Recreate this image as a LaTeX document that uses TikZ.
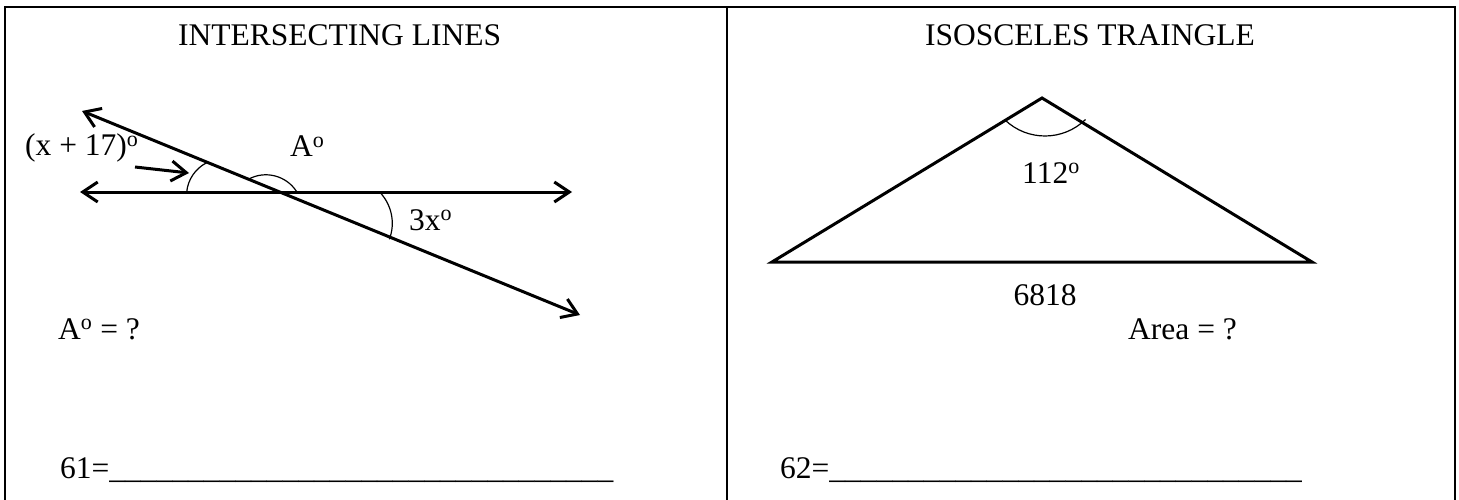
\documentclass[tikz,border=0pt]{standalone}
\usepackage{fontspec}
\setmainfont{Liberation Serif}
\usetikzlibrary{arrows.meta}

\newcommand{\degsup}{\textsuperscript{o}}
\newcommand{\blanks}[1]{\foreach\k in {1,...,#1}{\_}}

\begin{document}
\begin{tikzpicture}[x=1pt, y=-1pt,
    every node/.style={inner sep=0pt, anchor=base west,
        font=\fontsize{31.5}{36}\selectfont},
    frame/.style={line width=1.5pt},
    thickline/.style={line width=3pt},
    anglemark/.style={line width=1.2pt},
    barb/.style={-{Straight Barb[length=15pt,width=20pt]}},
    ray/.style={thickline,
        {Straight Barb[length=15pt,width=20pt]}-{Straight Barb[length=15pt,width=20pt]}}]
    \useasboundingbox (0,0) rectangle (1459,500);

    % frame of the two panels
    \draw[frame] (5,500) |- (1455,7) -- (1455,500);
    \draw[frame] (727,7) -- (727,500);

    % left panel
    \node (titleL) at (178,45.7) {INTERSECTING LINES};
    \coordinate (hL) at (80,192);
    \coordinate (hR) at (572,192);
    \coordinate (sL) at (82,111);
    \coordinate (sR) at (580,315);
    \draw[ray] (hL) -- (hR);
    \draw[ray] (sL) -- (sR);

    \draw[anglemark] (186.7,192) arc[start angle=185.5, end angle=243.2, radius=36.8];
    \draw[anglemark] (248.3,179.3) arc[start angle=241.2, end angle=327.5, radius=36.5];
    \draw[anglemark] (379.3,191.7) arc[start angle=-44.6, end angle=20.7, radius=45.1];

    \node (labX) at (25,156) {(x + 17)\degsup};
    \node (labA) at (290,157) {A\degsup};
    \node (lab3x) at (409,230) {3x\degsup};
    \coordinate (ptrTip) at (189,173);
    \draw[thickline, barb] (135,167) -- (ptrTip);

    \node (askA) at (58,339) {A\degsup{} = ?};
    \node (ansL) at (60,478) {61=\blanks{32}};

    % right panel
    \node[anchor=base] (titleR) at (1090,45.7) {ISOSCELES TRAINGLE};
    \draw[thickline, line join=miter]
        (1042,98) coordinate (apex) --
        (1312,262) coordinate (baseR) --
        (772,262) coordinate (baseL) -- cycle;
    \draw[anglemark] (1005,120) arc[start angle=133.6, end angle=45.7, radius=58];

    \node (lab112) at (1022,183) {112\degsup};
    \node[anchor=base] (side) at (1045,305) {6818};
    \node (askArea) at (1128,339) {Area = ?};
    \node (ansR) at (780,478) {62=\blanks{30}};
\end{tikzpicture}
\end{document}
